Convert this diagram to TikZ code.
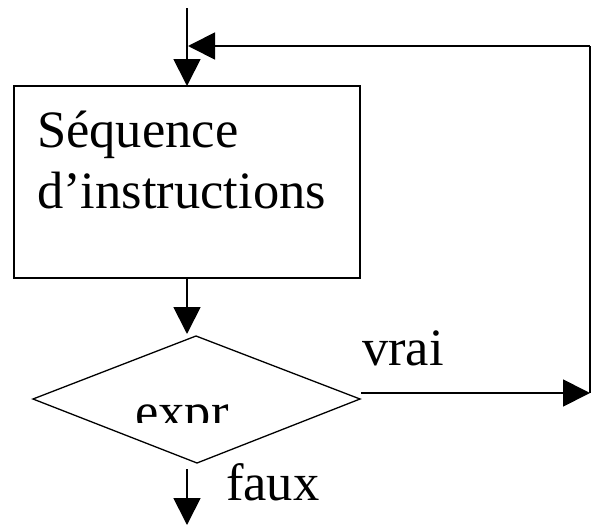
\documentclass[tikz,border=0pt]{standalone}
\usepackage{fontspec}
\setmainfont{Liberation Serif}
\usetikzlibrary{arrows.meta}
\begin{document}
\begin{tikzpicture}[x=1pt,y=-1pt,
  conn/.style={line width=1.8pt},
  arr/.style={conn, -{Triangle[length=27pt,width=27pt]}},
  lbl/.style={font=\fontsize{52.5}{60}\selectfont, inner sep=0pt, anchor=base west}]
\useasboundingbox (0,0) rectangle (597,525);
% process box
\node[draw, line width=1.8pt, minimum width=346pt, minimum height=192pt, inner sep=0pt, outer sep=0pt, anchor=north west] (seq) at (14,86) {};
\node[lbl] (t1) at (37,147) {Séquence};
\node[lbl] (t2) at (37,208) {d’instructions};
% decision diamond
\coordinate (dt) at (196,336);
\coordinate (dr) at (360,399);
\coordinate (db) at (197,463);
\coordinate (dl) at (33,399);
\draw[line width=1.3pt, line join=miter] (dt) -- (dr) -- (db) -- (dl) -- cycle;
\begin{scope}
  \clip (0,0) rectangle (597,422);
  \node[lbl] (expr) at (135,429) {expr};
\end{scope}
\node[lbl] (vrai) at (362,365) {vrai};
\node[lbl] (faux) at (226,500) {faux};
% connectors
\coordinate (in) at (187,8);
\draw[arr] (in) -- (in |- seq.north);
\draw[arr] (in |- seq.south) -- (187,334) coordinate (dtop);
\coordinate (fs) at (187,469);
\coordinate (fe) at (187,525);
\draw[arr] (fs) -- (fe);
\coordinate (vs) at (361,393);
\coordinate (ve) at (590,393);
\draw[arr] (vs) -- (ve);
\coordinate (tr) at (590,46);
\coordinate (tl) at (188,46);
\draw[conn] (ve) -- (tr);
\draw[arr] (tr) -- (tl);
\end{tikzpicture}
\end{document}
